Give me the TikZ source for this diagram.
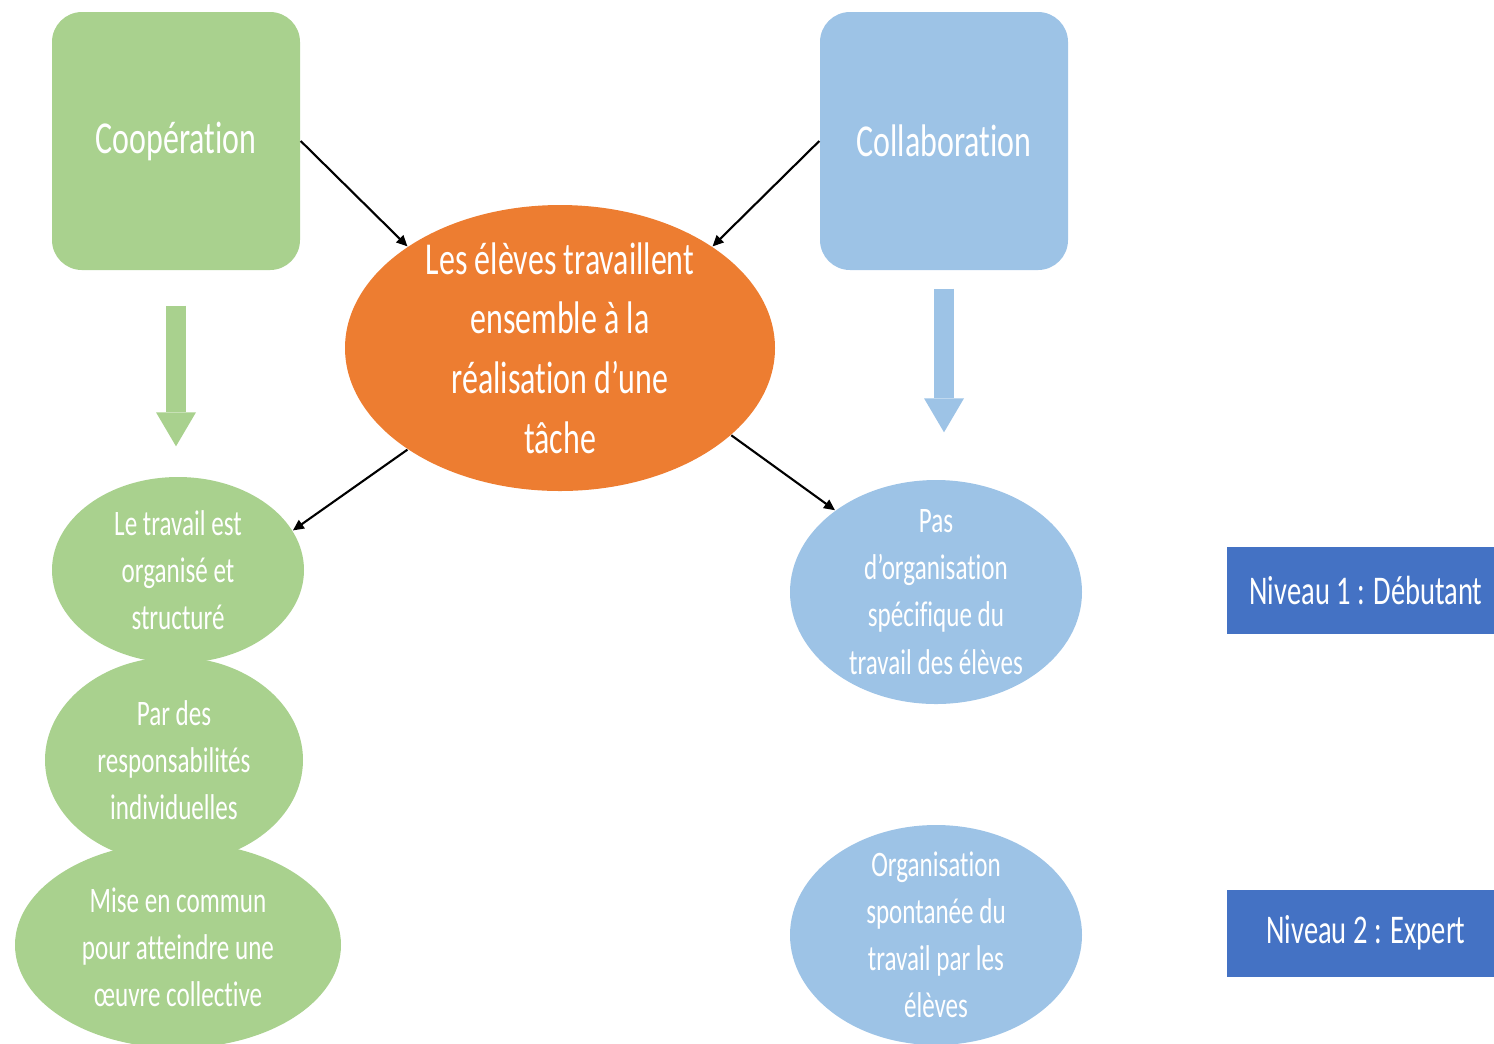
\documentclass[tikz,border=0pt]{standalone}
\usepackage{fontspec}
\setmainfont{Carlito}[FakeStretch=0.7, Ligatures=NoCommon]
\usetikzlibrary{shapes.geometric, arrows.meta}
\definecolor{coopgreen}{HTML}{A9D18E}
\definecolor{collabblue}{HTML}{9DC3E6}
\definecolor{taskorange}{HTML}{ED7D31}
\definecolor{levelblue}{HTML}{4472C4}
\tikzset{
	head/.style={rounded corners=3mm, minimum width=24.8mm, minimum height=25.8mm, text=white, font=\fontsize{13}{16}\selectfont},
	blob/.style={ellipse, inner sep=0pt},
	blobtext/.style={text=white, align=center, font=\fontsize{10.2}{13.4}\selectfont},
	link/.style={-{Triangle[length=1.1mm 0, width=1mm 0]}, line width=0.6pt},
	bigdown/.style={line width=2mm, -{Triangle[length=3.4mm 0, width=4mm 0, line width=0pt 0]}},
	level/.style={fill=levelblue, minimum width=27.8mm, minimum height=8.7mm, text=white, font=\fontsize{11.6}{14}\selectfont}
}
\begin{document}
\begin{tikzpicture}[x=0.1mm, y=-0.1mm]
	\useasboundingbox (0,0) rectangle (1494,1043);
	
	\node[head, fill=coopgreen] (coop) at (176,141) {Coopération};
	\node[head, fill=collabblue] (collab) at (944,141) {Collaboration};
	
	\node[blob, fill=taskorange, minimum width=43mm, minimum height=28.6mm] (tache) at (560,348) {};
	\node[blobtext, font=\fontsize{13}{17}\selectfont] (tache-t) at (tache) {Les élèves travaillent\\ensemble à la\\réalisation d’une\\tâche};
	
	\node[blob, fill=coopgreen, minimum width=25.2mm, minimum height=18.6mm] (org) at (178,570) {};
	\node[blob, fill=coopgreen, minimum width=25.8mm, minimum height=20.6mm] (resp) at (174,760) {};
	\node[blob, fill=coopgreen, minimum width=32.6mm, minimum height=20.6mm] (mise) at (178,945) {};
	\node[blobtext] (org-t) at (org) {Le travail est\\organisé et\\structuré};
	\node[blobtext] (resp-t) at (resp) {Par des\\responsabilités\\individuelles};
	\node[blobtext] (mise-t) at (178,947) {Mise en commun\\pour atteindre une\\œuvre collective};
	
	\node[blob, fill=collabblue, minimum width=29.2mm, minimum height=22.4mm] (pas) at (936,592) {};
	\node[blob, fill=collabblue, minimum width=29.2mm, minimum height=22mm] (spont) at (936,935) {};
	\node[blobtext] (pas-t) at (pas) {Pas\\d’organisation\\spécifique du\\travail des élèves};
	\node[blobtext] (spont-t) at (spont) {Organisation\\spontanée du\\travail par les\\élèves};
	
	\node[level] (niv1) at (1366,590) {Niveau 1 : Débutant};
	\node[level] (niv2) at (1366,933) {Niveau 2 : Expert};
	
	\draw[bigdown, coopgreen, shorten <=3.5mm, shorten >=3mm] (coop.south) -- (coop.south |- org.north);
	\draw[bigdown, collabblue, shorten <=1.8mm, shorten >=4.7mm] (collab.south) -- (collab.south |- pas.north);
	
	\draw[link] (coop.east) -- (tache.north west);
	\draw[link] (collab.west) -- (tache.north east);
	\draw[link] (tache.south west) -- (org.19);
	\draw[link] (tache.-27) -- (pas.141);
\end{tikzpicture}
\end{document}
